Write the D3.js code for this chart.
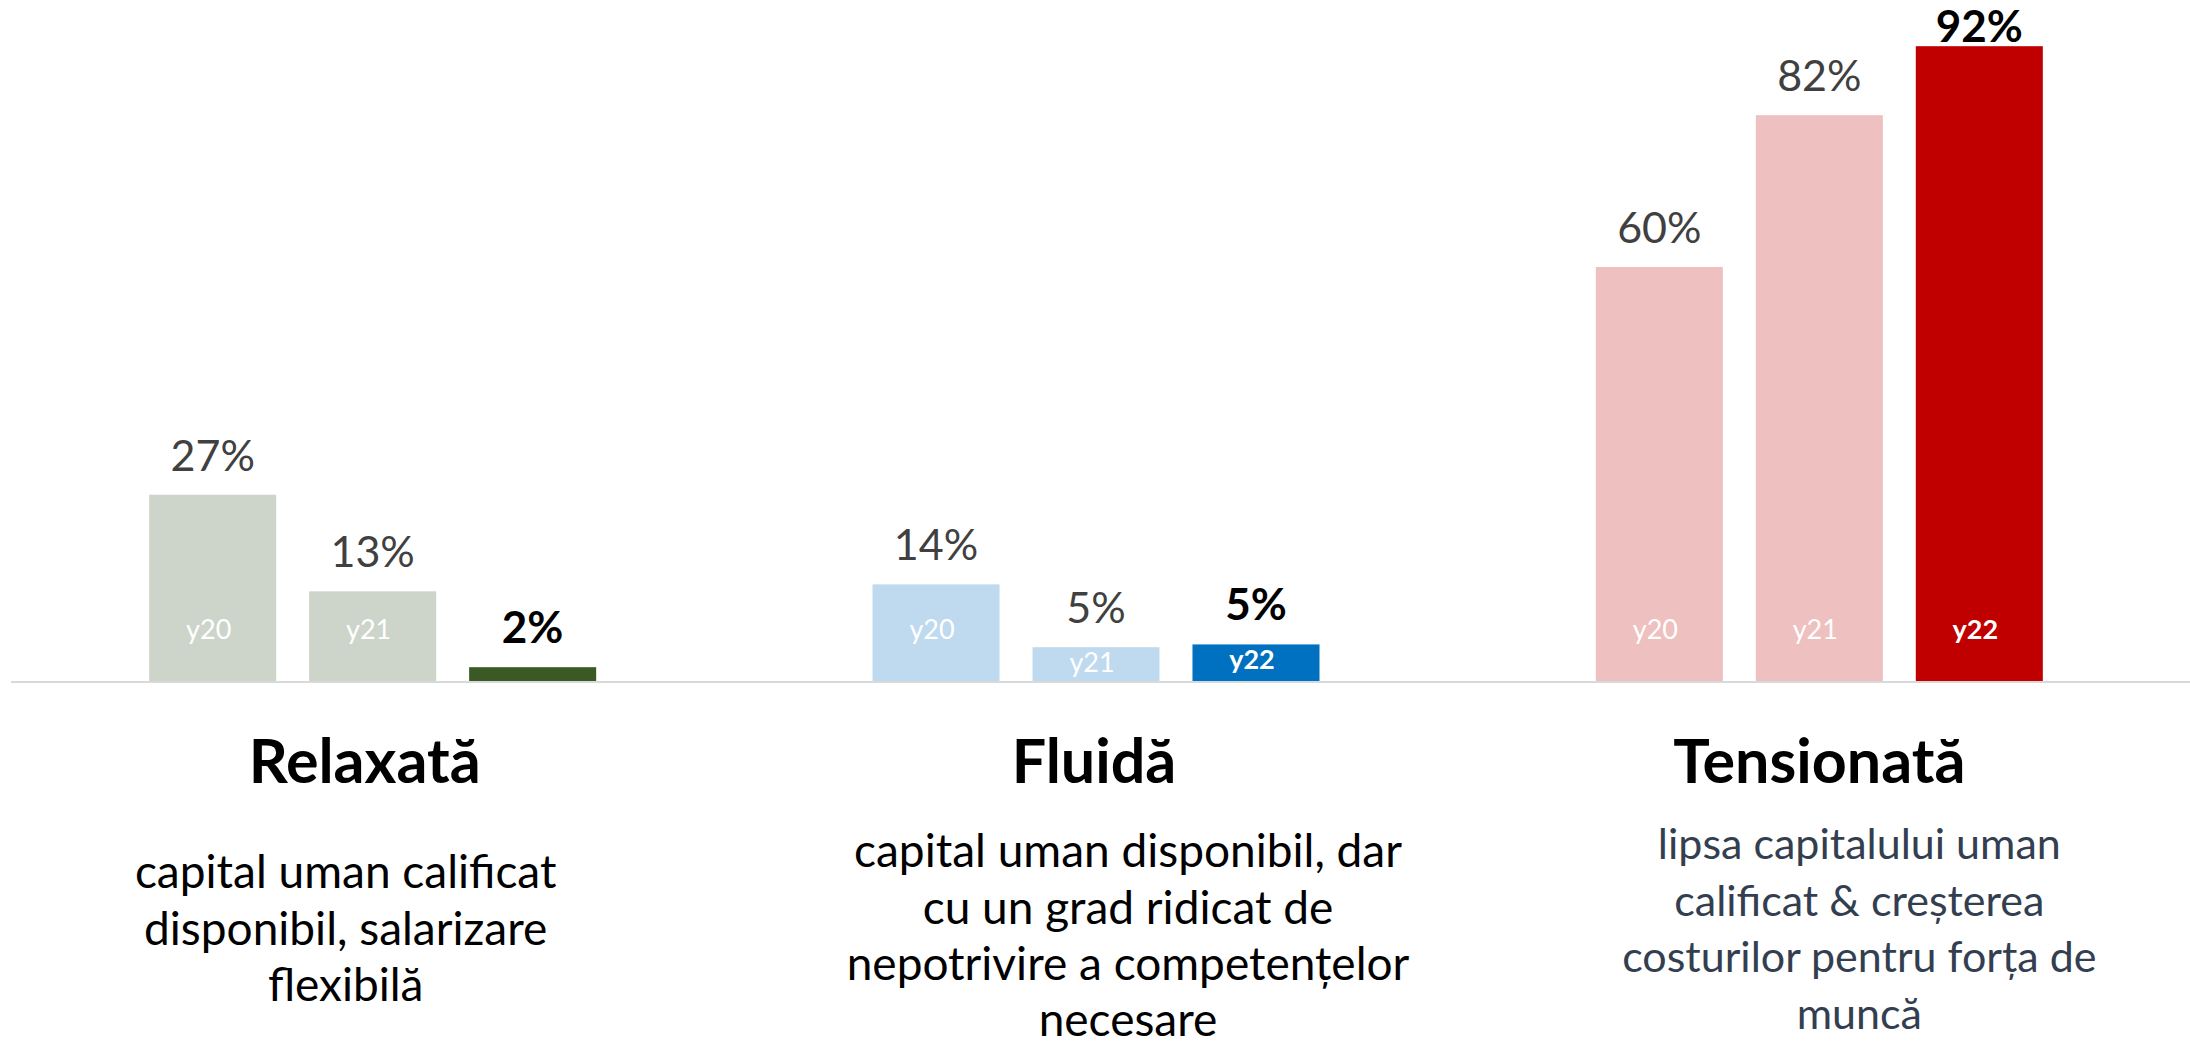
<!DOCTYPE html>
<html>
<head>
<meta charset="utf-8">
<script src="https://cdn.jsdelivr.net/npm/d3@7"></script>
<style>
  body { margin: 0; background: #fff; }
  svg { display: block; font-family: Lato, "Open Sans", sans-serif; }
</style>
</head>
<body>
<div id="chart"></div>
<script>
// chart data
const groups = ["Relaxată", "Fluidă", "Tensionată"];
const years = ["y20", "y21", "y22"];
const y20 = [0.27, 0.14, 0.60];
const y21 = [0.13, 0.049, 0.82];
const y22 = [0.02, 0.053, 0.92];
const descriptions = [
  ["capital uman calificat", "disponibil, salarizare", "flexibilă"],
  ["capital uman disponibil, dar", "cu un grad ridicat de", "nepotrivire a competențelor", "necesare"],
  ["lipsa capitalului uman", "calificat & creșterea", "costurilor pentru forța de", "muncă"]
];
const lightColors = ["#cdd5ca", "#bfdaef", "#eec0c0"];
const darkColors = ["#3b5924", "#0070c0", "#c00000"];
const descColors = ["#000000", "#000000", "#333f50"];

// layout
const width = 2190;
const height = 1041;
const baseY = 681;
const groupWidth = 447;
const titleShift = [-8, -2, 0];
const descShift = [-27, 32, 40];
const descSize = [46, 46, 43];
const descTop = [888, 867, 859];
const lineGap = 56.5;

const svg = d3.select("#chart")
  .append("svg")
  .attr("width", width)
  .attr("height", height);

const x0 = d3.scaleBand()
  .domain(groups)
  .range([11, 2181]);

const x1 = d3.scaleBand()
  .domain(years)
  .range([0, groupWidth])
  .paddingInner(0.206);

const y = d3.scaleLinear()
  .domain([0, 1])
  .range([baseY, baseY - 690]);

const pct = d3.format(".0%");
const series = [y20, y21, y22];

// one row per bar
const bars = groups.flatMap((g, gi) => years.map((yr, yi) => ({
  group: g, gi: gi, year: yr, last: yi === years.length - 1, value: series[yi][gi]
})));

const groupLeft = g => x0(g) + (x0.bandwidth() - groupWidth) / 2;
const barX = d => groupLeft(d.group) + x1(d.year);

// axis line
svg.append("line")
  .attr("x1", 11)
  .attr("x2", width)
  .attr("y1", baseY + 1)
  .attr("y2", baseY + 1)
  .attr("stroke", "#d9d9d9")
  .attr("stroke-width", 2);

// bars
svg.selectAll(".bar")
  .data(bars)
  .enter()
  .append("rect")
    .attr("class", "bar")
    .attr("x", barX)
    .attr("y", d => y(d.value))
    .attr("width", x1.bandwidth())
    .attr("height", d => y(0) - y(d.value))
    .attr("fill", d => d.last ? darkColors[d.gi] : lightColors[d.gi]);

// value labels above bars
svg.selectAll(".val")
  .data(bars)
  .enter()
  .append("text")
    .attr("class", "val")
    .attr("x", d => barX(d) + x1.bandwidth() / 2)
    .attr("y", d => Math.max(y(d.value) - 24, 42))
    .attr("text-anchor", "middle")
    .attr("font-size", d => d.last ? "44px" : "43px")
    .attr("font-weight", d => d.last ? "bold" : "normal")
    .attr("fill", d => d.last ? "#000000" : "#404040")
    .text(d => pct(d.value));

// year tags inside bars
svg.selectAll(".tag")
  .data(bars.filter(d => y(0) - y(d.value) > 30))
  .enter()
  .append("text")
    .attr("class", "tag")
    .attr("x", d => barX(d) + x1.bandwidth() / 2 - 4)
    .attr("y", d => Math.max(baseY - 42, y(d.value) + 25))
    .attr("text-anchor", "middle")
    .attr("font-size", "27px")
    .attr("font-weight", d => d.last ? "bold" : "normal")
    .attr("fill", "#ffffff")
    .text(d => d.year);

// category titles
svg.selectAll(".title")
  .data(groups)
  .enter()
  .append("text")
    .attr("class", "title")
    .attr("x", (g, i) => x0(g) + x0.bandwidth() / 2 + titleShift[i])
    .attr("y", 783)
    .attr("text-anchor", "middle")
    .attr("font-size", "61px")
    .attr("font-weight", "bold")
    .attr("fill", "#000")
    .text(g => g);

// descriptions, one text per group
groups.forEach((g, i) => {
  const t = svg.append("text")
    .attr("text-anchor", "middle")
    .attr("font-size", descSize[i] + "px")
    .attr("fill", descColors[i]);
  descriptions[i].forEach((line, li) => {
    t.append("tspan")
      .attr("x", x0(g) + x0.bandwidth() / 2 + descShift[i])
      .attr("y", Math.min(descTop[i] + li * lineGap, 1036))
      .text(line);
  });
});
</script>
</body>
</html>
